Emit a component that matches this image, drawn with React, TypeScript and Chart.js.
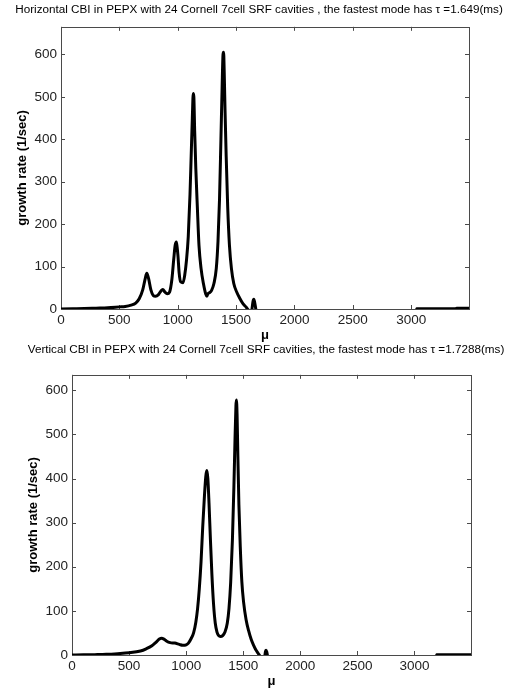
import React, { useEffect, useRef } from 'react';
import { Chart, registerables } from 'chart.js';

Chart.register(...registerables);

const FONT = "'Liberation Sans', Arial, Helvetica, sans-serif";

const H_TITLE = 'Horizontal CBI in PEPX with 24 Cornell 7cell SRF cavities , the fastest mode has \u03c4 =1.649(ms)';
const V_TITLE = 'Vertical CBI in PEPX with 24 Cornell 7cell SRF cavities, the fastest mode has \u03c4 =1.7288(ms)';
const Y_LABEL = 'growth rate (1/sec)';
const X_LABEL = '\u03bc';

const X_TICKS = [0, 500, 1000, 1500, 2000, 2500, 3000];
const Y_TICKS = [0, 100, 200, 300, 400, 500, 600];

// Horizontal CBI growth rate vs mode index mu (values below 0 are clipped, like the original)
const H_MU = [0, 100, 200, 300, 400, 500, 550, 600, 640, 670, 700, 720, 735, 750, 770, 790, 810, 835, 855, 872, 890, 910, 930, 950, 965, 978, 988, 995, 1002, 1012, 1025, 1045, 1060, 1075, 1090, 1105, 1115, 1125, 1133, 1138, 1145, 1155, 1168, 1182, 1200, 1220, 1240, 1250, 1258, 1270, 1290, 1310, 1330, 1345, 1358, 1370, 1380, 1388, 1393, 1398, 1405, 1415, 1428, 1443, 1460, 1480, 1505, 1530, 1560, 1590, 1610, 1625, 1635, 1645, 1652, 1660, 1672, 1690, 2000, 2500, 3000, 3030, 3045, 3200, 3370, 3390, 3495];
const H_RATE = [0, 0.5, 1, 2, 3, 5, 6, 9, 14, 24, 45, 70, 84, 72, 45, 32, 30, 34, 42, 46, 40, 36, 40, 70, 115, 150, 158, 145, 125, 85, 64, 62, 80, 115, 170, 270, 360, 450, 508, 500, 420, 330, 240, 150, 95, 60, 35, 30, 36, 38, 44, 60, 95, 160, 260, 400, 520, 600, 605, 560, 470, 360, 240, 150, 95, 60, 40, 26, 12, 3, -5, -15, -2, 18, 23, 14, -5, -20, -30, -30, -30, -30, 0.3, 0.3, 0.3, 1.5, 1.5];

// Vertical CBI growth rate vs mode index mu
const V_MU = [0, 100, 200, 300, 400, 500, 600, 650, 700, 740, 765, 785, 805, 830, 860, 900, 940, 970, 1000, 1020, 1045, 1065, 1085, 1100, 1115, 1130, 1145, 1160, 1172, 1181, 1190, 1200, 1212, 1225, 1240, 1255, 1270, 1285, 1300, 1320, 1340, 1360, 1375, 1390, 1405, 1418, 1428, 1436, 1440, 1446, 1453, 1462, 1474, 1488, 1503, 1525, 1547, 1570, 1591, 1610, 1630, 1650, 1670, 1688, 1695, 1700, 1706, 1715, 1730, 2000, 2500, 3000, 3180, 3192, 3495];
const V_RATE = [0, 0.3, 0.8, 1.5, 3, 5, 9, 14, 21, 30, 36, 38, 36, 31, 28, 27, 24, 22, 23, 27, 38, 50, 75, 105, 150, 210, 290, 360, 405, 418, 400, 345, 265, 185, 115, 72, 52, 44, 42, 44, 52, 72, 105, 165, 260, 380, 490, 565, 578, 545, 450, 340, 245, 165, 120, 80, 55, 35, 22, 12, 4, -4, -15, -3, 8, 11, 7, -5, -20, -30, -30, -30, -30, 0.8, 0.8];

const boxPlugin = {
  id: 'matlabBox',
  beforeDatasetsDraw(chart: any) {
    const { ctx, chartArea } = chart;
    const { left, right, top, bottom } = chartArea;
    const xs = chart.scales.x;
    const ys = chart.scales.y;
    const tl = 4;
    ctx.save();
    ctx.strokeStyle = '#4a4a4a';
    ctx.lineWidth = 1;
    ctx.strokeRect(Math.round(left) + 0.5, Math.round(top) + 0.5, Math.round(right - left), Math.round(bottom - top));
    ctx.beginPath();
    X_TICKS.forEach((v) => {
      const px = Math.round(xs.getPixelForValue(v)) + 0.5;
      ctx.moveTo(px, bottom);
      ctx.lineTo(px, bottom - tl);
      ctx.moveTo(px, top);
      ctx.lineTo(px, top + tl);
    });
    Y_TICKS.forEach((v) => {
      const py = Math.round(ys.getPixelForValue(v)) + 0.5;
      ctx.moveTo(left, py);
      ctx.lineTo(left + tl, py);
      ctx.moveTo(right, py);
      ctx.lineTo(right - tl, py);
    });
    ctx.stroke();
    ctx.restore();
  },
};

type Props = {
  mu: number[];
  rate: number[];
  title: string;
  yMax: number;
  width: number;
  height: number;
  padLeft: number;
  axisLeft: number;
  axisRight: number;
  titleTop: number;
  titleBottom: number;
  yTitlePad: number;
};

function CBIChart(p: Props) {
  const ref = useRef<HTMLCanvasElement | null>(null);
  useEffect(() => {
    if (!ref.current) return;
    const points = p.mu.map((m, i) => ({ x: m, y: p.rate[i] }));
    const chart = new Chart(ref.current, {
      type: 'line',
      data: {
        datasets: [
          {
            data: points,
            borderColor: '#000000',
            borderWidth: 3,
            pointRadius: 0,
            fill: false,
            tension: 0,
            cubicInterpolationMode: 'monotone',
            yAxisID: 'y',
          },
        ],
      },
      options: {
        animation: false,
        responsive: false,
        maintainAspectRatio: false,
        devicePixelRatio: 1,
        layout: { padding: { left: p.padLeft, right: 0, top: 0, bottom: 0 } },
        plugins: {
          legend: { display: false },
          tooltip: { enabled: false },
          title: {
            display: true,
            text: p.title,
            color: '#000',
            font: { family: FONT, size: 11.7, weight: 'normal' },
            padding: { top: p.titleTop, bottom: p.titleBottom },
          },
        },
        scales: {
          x: {
            type: 'linear',
            min: 0,
            max: 3495,
            grid: { display: false, drawTicks: false },
            border: { display: false },
            afterFit: (s: any) => {
              s.height = 34;
            },
            afterBuildTicks: (s: any) => {
              s.ticks = X_TICKS.map((v) => ({ value: v }));
            },
            ticks: {
              color: '#222',
              font: { family: FONT, size: 13.5 },
              padding: 3,
              maxRotation: 0,
              autoSkip: false,
              callback: (v: any) => String(v),
            },
            title: {
              display: true,
              text: X_LABEL,
              color: '#000',
              font: { family: FONT, size: 13, weight: 'bold' },
              padding: { top: 0, bottom: 0 },
            },
          },
          y: {
            type: 'linear',
            position: 'left',
            min: 0,
            max: p.yMax,
            grid: { display: false, drawTicks: false },
            border: { display: false },
            afterFit: (s: any) => {
              s.width = p.axisLeft;
            },
            afterBuildTicks: (s: any) => {
              s.ticks = Y_TICKS.map((v) => ({ value: v }));
            },
            ticks: {
              color: '#222',
              font: { family: FONT, size: 13.5 },
              padding: 4,
              autoSkip: false,
              callback: (v: any) => String(v),
            },
            title: {
              display: true,
              text: Y_LABEL,
              color: '#000',
              font: { family: FONT, size: 13, weight: 'bold' },
              padding: { top: p.yTitlePad, bottom: 0 },
            },
          },
          yr: {
            type: 'linear',
            position: 'right',
            display: true,
            min: 0,
            max: p.yMax,
            grid: { display: false, drawTicks: false },
            border: { display: false },
            ticks: { display: false },
            afterFit: (s: any) => {
              s.width = p.axisRight;
            },
          },
        },
      },
      plugins: [boxPlugin],
    });
    return () => chart.destroy();
  }, []);
  return <canvas ref={ref} width={p.width} height={p.height} style={{ display: 'block', width: p.width, height: p.height }} />;
}

export default function App() {
  return (
    <div style={{ position: 'absolute', left: 0, top: 0, width: 518, height: 689, background: '#fff' }}>
      <CBIChart
        mu={H_MU}
        rate={H_RATE}
        title={H_TITLE}
        yMax={665}
        width={518}
        height={343}
        padLeft={0}
        axisLeft={61}
        axisRight={49}
        titleTop={3}
        titleBottom={9.8}
        yTitlePad={14.2}
      />
      <CBIChart
        mu={V_MU}
        rate={V_RATE}
        title={V_TITLE}
        yMax={635}
        width={518}
        height={346}
        padLeft={14}
        axisLeft={58}
        axisRight={47}
        titleTop={0}
        titleBottom={17.8}
        yTitlePad={11.2}
      />
    </div>
  );
}
